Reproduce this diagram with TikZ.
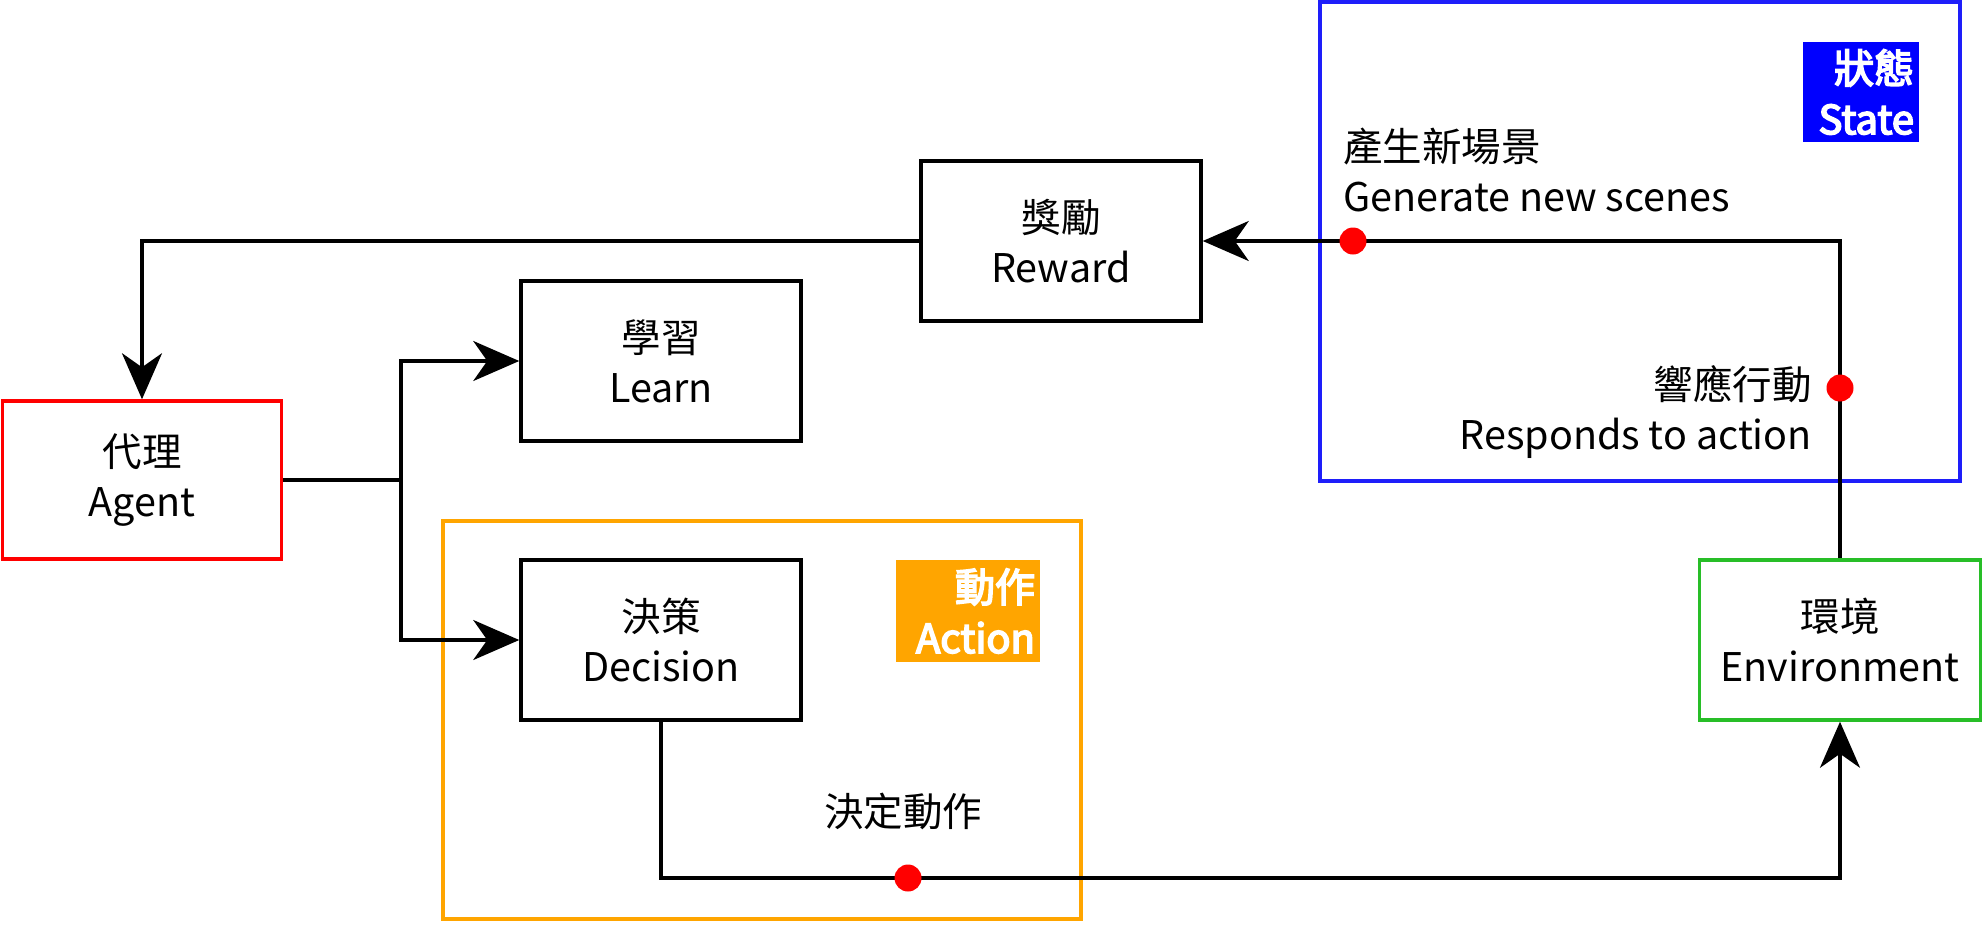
\documentclass[tikz,border=0pt]{standalone}
\usepackage{fontspec}
\setmainfont{Noto Sans CJK TC}
\newfontfamily\tagfont[FakeBold=4]{Noto Sans CJK TC}
\usetikzlibrary{arrows.meta}
\definecolor{cred}{RGB}{255,0,0}
\definecolor{corange}{RGB}{255,165,0}
\definecolor{cblue}{RGB}{0,0,255}
\definecolor{cframeblue}{RGB}{30,30,250}
\definecolor{cgreen}{RGB}{40,190,40}
\tikzset{
  box/.style={draw=black, line width=3.5pt, rectangle, minimum width=280pt, minimum height=160pt, align=center, inner sep=0pt, font=\fontsize{39.5}{50}\selectfont},
  frame/.style={line width=3.5pt},
  tag/.style={rectangle, inner sep=0pt, align=right, text=white, font=\tagfont\fontsize{40}{51}\selectfont},
  lbl/.style={inner sep=0pt, font=\fontsize{39.5}{50}\selectfont},
  conn/.style={line width=3.5pt, draw=black},
  arr/.style={conn, -{Stealth[length=46pt, width=40pt, inset=14pt]}},
  dot/.style={circle, fill=cred, inner sep=0pt, minimum size=27pt}
}
\begin{document}
\begin{tikzpicture}[x=1pt, y=-1pt]
\useasboundingbox (0,0) rectangle (1984,924);
% frames
\draw[frame, draw=corange] (443,521) rectangle (1081,919);
\draw[frame, draw=cframeblue] (1320,2) rectangle (1960,481);
% tags
\node[tag, fill=corange, minimum width=144pt, minimum height=102pt, text width=134pt] (acttag) at (968,611) {動作\\Action};
\node[tag, fill=cblue, minimum width=116pt, minimum height=100pt, text width=106pt] (sttag) at (1861,92) {狀態\\State};
% boxes
\node[box, draw=cred, minimum width=279pt, minimum height=158pt] (agent) at (142,480) {代理\\Agent};
\node[box] (learn) at (661,361) {學習\\Learn};
\node[box] (reward) at (1061,241) {獎勵\\Reward};
\node[box] (decision) at (661,640) {決策\\Decision};
\node[box, draw=cgreen, minimum width=281pt] (env) at (1840,640) {環境\\Environment};
% connectors
\coordinate (split) at (401,480);
\coordinate (dr) at (1840,878);
\draw[arr] (env.north) |- (reward.east);
\draw[arr] (reward.west) -| (agent.north);
\draw[conn] (agent.east) -- (split);
\draw[arr] (split) |- (learn.west);
\draw[arr] (split) |- (decision.west);
\draw[arr] (decision.south) |- (dr) -- (env.south);
% dots
\node[dot] (d1) at (1353,241) {};
\node[dot] (d2) at (1840,388) {};
\node[dot] (d3) at (908,878) {};
% labels
\node[lbl, anchor=west, align=left] (gen) at (1343,170) {產生新場景\\Generate new scenes};
\node[lbl, anchor=east, align=right] (resp) at (1812,412) {響應行動\\Responds to action};
\node[lbl] (decide) at (903,811) {決定動作};
\end{tikzpicture}
\end{document}
